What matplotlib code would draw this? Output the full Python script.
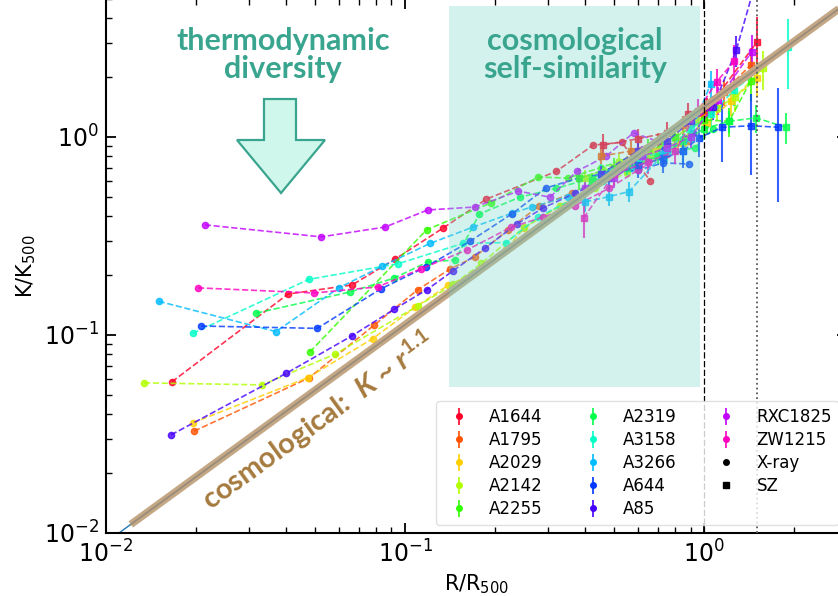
import numpy as np
import matplotlib
matplotlib.use("Agg")
import matplotlib.pyplot as plt
from matplotlib.patches import Rectangle, Polygon

# ---- X-ray profiles (R/R500, K/K500) ----
a1644_xr_r = [0.0166, 0.0406, 0.0665, 0.0927, 0.134, 0.187, 0.32, 0.425, 0.53, 0.66]
a1644_xr_k = [0.058, 0.161, 0.179, 0.242, 0.347, 0.486, 0.67, 0.91, 0.94, 0.60]
a1795_xr_r = [0.0197, 0.0477, 0.0787, 0.11, 0.141, 0.171, 0.221, 0.28, 0.36, 0.46, 0.58, 0.72, 0.88]
a1795_xr_k = [0.0327, 0.0607, 0.112, 0.169, 0.215, 0.248, 0.34, 0.448, 0.52, 0.62, 0.72, 0.82, 0.95]
a2029_xr_r = [0.0195, 0.0474, 0.078, 0.108, 0.139, 0.171, 0.218, 0.25, 0.33, 0.42, 0.55, 0.7, 0.85]
a2029_xr_k = [0.036, 0.061, 0.096, 0.138, 0.178, 0.205, 0.272, 0.347, 0.45, 0.55, 0.68, 0.8, 0.92]
a2142_xr_r = [0.0134, 0.0333, 0.0583, 0.11, 0.145, 0.18, 0.25, 0.33, 0.43, 0.55, 0.7, 0.88]
a2142_xr_k = [0.0573, 0.056, 0.08, 0.14, 0.18, 0.23, 0.35, 0.45, 0.55, 0.66, 0.82, 1.0]
a2255_xr_r = [0.048, 0.118, 0.194, 0.278, 0.35, 0.45, 0.58, 0.72, 0.9]
a2255_xr_k = [0.082, 0.34, 0.465, 0.628, 0.62, 0.7, 0.8, 0.9, 1.05]
a2319_xr_r = [0.0318, 0.0655, 0.092, 0.119, 0.147, 0.177, 0.242, 0.32, 0.42, 0.55, 0.7, 0.93, 1.07]
a2319_xr_k = [0.129, 0.165, 0.194, 0.234, 0.239, 0.408, 0.497, 0.55, 0.62, 0.72, 0.82, 0.88, 1.1]
a3158_xr_r = [0.0195, 0.0476, 0.0946, 0.156, 0.218, 0.278, 0.36, 0.46, 0.6, 0.75, 0.9]
a3158_xr_k = [0.102, 0.191, 0.229, 0.29, 0.293, 0.394, 0.48, 0.6, 0.75, 0.85, 0.98]
a3266_xr_r = [0.015, 0.037, 0.06, 0.084, 0.121, 0.168, 0.228, 0.265, 0.35, 0.45, 0.57, 0.72]
a3266_xr_k = [0.148, 0.104, 0.173, 0.223, 0.29, 0.35, 0.413, 0.443, 0.5, 0.62, 0.7, 0.8]
a644_xr_r = [0.0208, 0.0508, 0.083, 0.117, 0.165, 0.228, 0.296, 0.38, 0.48, 0.6, 0.73, 0.89]
a644_xr_k = [0.111, 0.108, 0.171, 0.22, 0.298, 0.41, 0.553, 0.62, 0.66, 0.68, 0.74, 0.73]
a85_xr_r = [0.0165, 0.04, 0.0664, 0.092, 0.118, 0.144, 0.185, 0.236, 0.289, 0.37, 0.47, 0.6, 0.75, 0.92]
a85_xr_k = [0.0313, 0.064, 0.099, 0.135, 0.169, 0.21, 0.275, 0.363, 0.438, 0.52, 0.62, 0.75, 0.9, 1.05]
rxc1825_xr_r = [0.0214, 0.0524, 0.0857, 0.119, 0.171, 0.239, 0.305, 0.376, 0.47, 0.58, 0.7]
rxc1825_xr_k = [0.36, 0.313, 0.351, 0.428, 0.443, 0.533, 0.497, 0.673, 0.8, 1.05, 0.95]
zw1215_xr_r = [0.0203, 0.0496, 0.081, 0.113, 0.161, 0.226, 0.289, 0.37, 0.48, 0.6, 0.75]
zw1215_xr_k = [0.173, 0.163, 0.175, 0.216, 0.269, 0.35, 0.394, 0.45, 0.55, 0.68, 0.82]

# ---- SZ profiles (R/R500, K/K500, error) ----
a1644_sz_r = [0.46, 0.6, 0.75, 0.88, 1.02, 1.5]
a1644_sz_k = [0.91, 0.98, 1.05, 1.3, 1.37, 3.02]
a1644_sz_e = [0.12, 0.12, 0.14, 0.18, 0.2, 1.0]
a1795_sz_r = [0.45, 0.57, 0.7, 0.85, 1.0, 1.16, 1.43]
a1795_sz_k = [0.8, 0.85, 0.95, 1.15, 1.3, 1.69, 2.31]
a1795_sz_e = [0.08, 0.1, 0.1, 0.12, 0.15, 0.25, 0.5]
a2029_sz_r = [0.42, 0.55, 0.68, 0.82, 1.02, 1.23, 1.5]
a2029_sz_k = [0.6, 0.72, 0.85, 0.95, 1.18, 1.52, 1.99]
a2029_sz_e = [0.06, 0.08, 0.1, 0.12, 0.15, 0.25, 0.4]
a2142_sz_r = [0.4, 0.52, 0.66, 0.8, 0.95, 1.1, 1.27, 1.57]
a2142_sz_k = [0.62, 0.75, 0.82, 1.0, 1.2, 1.4, 1.59, 2.23]
a2142_sz_e = [0.06, 0.07, 0.08, 0.1, 0.12, 0.18, 0.25, 0.5]
a2255_sz_r = [0.38, 0.5, 0.65, 0.8, 1.0, 1.21, 1.43]
a2255_sz_k = [0.62, 0.7, 0.88, 1.0, 1.22, 1.2, 1.92]
a2255_sz_e = [0.08, 0.08, 0.1, 0.12, 0.15, 0.2, 0.4]
a2319_sz_r = [0.42, 0.55, 0.7, 0.85, 1.0, 1.21, 1.49, 1.87]
a2319_sz_k = [0.6, 0.7, 0.8, 0.95, 1.1, 1.2, 1.25, 1.12]
a2319_sz_e = [0.05, 0.06, 0.07, 0.08, 0.1, 0.15, 0.2, 0.2]
a3158_sz_r = [0.45, 0.6, 0.75, 0.9, 1.05, 1.26, 1.91]
a3158_sz_k = [0.65, 0.78, 0.85, 1.1, 1.3, 1.73, 2.85]
a3158_sz_e = [0.08, 0.09, 0.1, 0.12, 0.18, 0.3, 1.1]
a3266_sz_r = [0.4, 0.48, 0.56, 0.73, 0.85, 1.05]
a3266_sz_k = [0.47, 0.5, 0.53, 0.82, 0.85, 1.85]
a3266_sz_e = [0.05, 0.05, 0.06, 0.1, 0.12, 0.3]
a644_sz_r = [0.48, 0.6, 0.73, 0.85, 0.96, 1.15, 1.43, 1.77]
a644_sz_k = [0.62, 0.72, 0.78, 0.85, 0.99, 1.12, 1.14, 1.12]
a644_sz_e = [0.08, 0.1, 0.12, 0.15, 0.2, 0.37, 0.5, 0.65]
a85_sz_r = [0.45, 0.6, 0.75, 0.9, 1.07, 1.28, 1.6]
a85_sz_k = [0.65, 0.85, 0.95, 1.2, 1.42, 2.75, 9.0]
a85_sz_e = [0.06, 0.08, 0.1, 0.12, 0.2, 0.5, 2.0]
rxc1825_sz_r = [0.4, 0.5, 0.62, 0.75, 0.9, 1.11, 1.44]
rxc1825_sz_k = [0.55, 0.62, 0.8, 0.88, 1.0, 1.54, 2.69]
rxc1825_sz_e = [0.06, 0.07, 0.1, 0.1, 0.12, 0.25, 0.6]
zw1215_sz_r = [0.395, 0.5, 0.65, 0.8, 0.95, 1.1, 1.26]
zw1215_sz_k = [0.39, 0.65, 0.75, 0.85, 1.35, 1.9, 2.42]
zw1215_sz_e = [0.08, 0.08, 0.1, 0.12, 0.2, 0.3, 0.5]

names = ["A1644", "A1795", "A2029", "A2142", "A2255", "A2319",
         "A3158", "A3266", "A644", "A85", "RXC1825", "ZW1215"]
xray = [(a1644_xr_r, a1644_xr_k), (a1795_xr_r, a1795_xr_k), (a2029_xr_r, a2029_xr_k),
        (a2142_xr_r, a2142_xr_k), (a2255_xr_r, a2255_xr_k), (a2319_xr_r, a2319_xr_k),
        (a3158_xr_r, a3158_xr_k), (a3266_xr_r, a3266_xr_k), (a644_xr_r, a644_xr_k),
        (a85_xr_r, a85_xr_k), (rxc1825_xr_r, rxc1825_xr_k), (zw1215_xr_r, zw1215_xr_k)]
sz = [(a1644_sz_r, a1644_sz_k, a1644_sz_e), (a1795_sz_r, a1795_sz_k, a1795_sz_e),
      (a2029_sz_r, a2029_sz_k, a2029_sz_e), (a2142_sz_r, a2142_sz_k, a2142_sz_e),
      (a2255_sz_r, a2255_sz_k, a2255_sz_e), (a2319_sz_r, a2319_sz_k, a2319_sz_e),
      (a3158_sz_r, a3158_sz_k, a3158_sz_e), (a3266_sz_r, a3266_sz_k, a3266_sz_e),
      (a644_sz_r, a644_sz_k, a644_sz_e), (a85_sz_r, a85_sz_k, a85_sz_e),
      (rxc1825_sz_r, rxc1825_sz_k, rxc1825_sz_e), (zw1215_sz_r, zw1215_sz_k, zw1215_sz_e)]

# baseline entropy profile K/K500 = 1.42 (R/R500)^1.1
k0 = 1.42
slope = 1.1
r500_line = 1.0
r200_line = 1.5

teal = "#3aa58f"
brown = "#a57a3e"

plt.rcParams["mathtext.fontset"] = "custom"
plt.rcParams["mathtext.rm"] = "Lato:bold"
plt.rcParams["mathtext.it"] = "Lato:italic:bold"

fig = plt.figure(figsize=(8.38, 5.96), dpi=100)
ax = fig.add_axes([106 / 838, 63 / 596, 741 / 838, 534.4 / 596])
ax.set_xscale("log")
ax.set_yscale("log")

cmap = plt.get_cmap("gist_rainbow")
colors = [cmap(i / (len(names) - 1)) for i in range(len(names))]

handles = []
for name, c, (xr, xk), (sr, sk, se) in zip(names, colors, xray, sz):
    ax.plot(xr, xk, "--", color=c, lw=1.2, alpha=0.8, zorder=2)
    ax.plot(xr, xk, "o", color=c, ms=4.5, alpha=0.8, zorder=2)
    ax.errorbar(sr, sk, yerr=se, fmt="s", ls="--", color=c, ms=5, lw=1.2,
                elinewidth=1.5, alpha=0.8, zorder=2)
    # legend proxy: dot with error bar
    h = ax.errorbar([np.nan], [np.nan], yerr=[np.nan], fmt="o", color=c, ms=4,
                    elinewidth=1.2, label=name)
    handles.append(h)

handles.append(ax.plot([], [], "o", color="k", ms=4, label="X-ray")[0])
handles.append(ax.plot([], [], "s", color="k", ms=5, label="SZ")[0])

# cosmological baseline
r_thin = np.array([0.011, 3.0])
r_band = np.array([0.0121, 3.0])
ax.plot(r_thin, k0 * r_thin ** slope, color="C0", lw=1.0, zorder=2.5)
ax.plot(r_band, k0 * r_band ** slope, color="#c4a886", lw=5.5, zorder=2.6,
        solid_capstyle="butt")
ax.plot(r_band, k0 * r_band ** slope, color="#8f8577", lw=1.3, alpha=0.8,
        zorder=2.7)

ax.axvline(r500_line, color="k", ls=(0, (5, 2)), lw=0.9, zorder=2.8)
ax.axvline(r200_line, color="0.35", ls=":", lw=1.3, zorder=2.8)

# self-similar region shading
ax.add_patch(Rectangle((0.14, 0.0546), 0.97 - 0.14, 4.6 - 0.0546,
                       facecolor="#6fd6c4", alpha=0.3, edgecolor="none",
                       zorder=3))

ax.text(0.633, 0.894, "cosmological\nself-similarity", transform=ax.transAxes,
        ha="center", va="center", fontsize=22, color=teal, family="Lato",
        weight="bold", linespacing=1.0, zorder=4)
ax.text(0.239, 0.894, "thermodynamic\ndiversity", transform=ax.transAxes,
        ha="center", va="center", fontsize=22, color=teal, family="Lato",
        weight="bold", linespacing=1.0, zorder=4)

arrow_xy = [(0.2132, 0.8121), (0.2564, 0.8121), (0.2564, 0.7354), (0.2955, 0.7354),
            (0.2362, 0.6362), (0.1768, 0.7354), (0.2132, 0.7354)]
ax.add_patch(Polygon(arrow_xy, closed=True, transform=ax.transAxes,
                     facecolor="#d0f7ec", edgecolor=teal, lw=1.6, zorder=4))

ax.text(0.0512, 0.0368, r"cosmological:  $K$ ~ $r^{1.1}$", rotation=36,
        rotation_mode="anchor", ha="center", va="center", fontsize=21,
        color=brown, family="Lato", weight="bold", math_fontfamily="custom",
        zorder=4)

ax.set_xlim(1e-2, 3)
ax.set_ylim(1e-2, 5)
ax.set_xlabel(r"R/R$_{500}$", fontsize=15, math_fontfamily="dejavusans")
ax.set_ylabel(r"K/K$_{500}$", fontsize=15, math_fontfamily="dejavusans")
for lab in ax.get_xticklabels(which="both") + ax.get_yticklabels(which="both"):
    lab.set_math_fontfamily("dejavusans")

ax.tick_params(which="both", direction="in", top=True, right=True)
ax.tick_params(which="major", length=7, width=1.3, labelsize=17, pad=5)
ax.tick_params(which="minor", length=4, width=1.0)
for sp in ax.spines.values():
    sp.set_linewidth(1.5)

ax.legend(handles=handles, loc="lower right", ncol=3, fontsize=12,
          labelspacing=0.3, framealpha=0.8, edgecolor="0.85", fancybox=True)

fig.savefig("out.png", dpi=100)
plt.close(fig)
